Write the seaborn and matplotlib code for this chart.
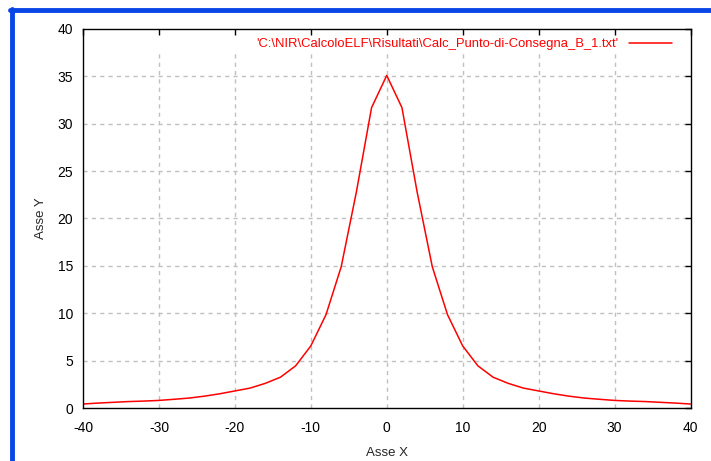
import matplotlib
matplotlib.use("Agg")
import matplotlib.pyplot as plt
import seaborn as sns
import pandas as pd
from matplotlib.lines import Line2D

# dati (curva simmetrica attorno a x=0)
x_vals = [-40, -38, -36, -34, -32, -30, -28, -26, -24, -22, -20, -18, -16, -14, -12, -10, -8, -6, -4, -2,
          0, 2, 4, 6, 8, 10, 12, 14, 16, 18, 20, 22, 24, 26, 28, 30, 32, 34, 36, 38, 40]
y_left = [0.42, 0.52, 0.60, 0.68, 0.73, 0.80, 0.92, 1.05, 1.25, 1.50, 1.80, 2.10, 2.60, 3.25, 4.45,
          6.55, 9.85, 14.9, 22.8, 31.7]
y_vals = y_left + [35.1] + y_left[::-1]

series_name = "'C:\\NIR\\CalcoloELF\\Risultati\\Calc_Punto-di-Consegna_B_1.txt'"
x_ticks = [-40, -30, -20, -10, 0, 10, 20, 30, 40]
y_ticks = [0, 5, 10, 15, 20, 25, 30, 35, 40]

df = pd.DataFrame({"x": x_vals, "y": y_vals})

sns.set_style("white")
plt.rcParams["font.family"] = ["Liberation Sans", "DejaVu Sans"]
plt.rcParams["font.size"] = 9.5
plt.rcParams["axes.unicode_minus"] = False

fig = plt.figure(figsize=(7.11, 4.61), dpi=100)
ax = fig.add_axes([83 / 711, 1 - 408 / 461, (690.5 - 83) / 711, (408 - 29) / 461])

# griglia tratteggiata grigia
for yt in y_ticks[1:-1]:
    ax.axhline(yt, color="#c0c0c0", lw=1, ls=(0, (3, 3)), zorder=0)
ax.vlines(x_ticks[1:-1], 0, 37.6, color="#c0c0c0", lw=1, ls=(0, (3, 3)), zorder=0)

sns.lineplot(data=df, x="x", y="y", ax=ax, color="red", lw=1.1, label=series_name)

ax.set_xlim(-40, 40)
ax.set_ylim(0, 40)
ax.set_xticks(x_ticks)
ax.set_yticks(y_ticks)
ax.tick_params(direction="in", top=True, right=True, length=4, width=1, colors="black", labelsize=10)
ax.tick_params(axis="x", pad=9)
ax.tick_params(axis="y", pad=7)
for s in ax.spines.values():
    s.set_color("black")
    s.set_linewidth(1)

ax.set_xlabel("Asse X", fontsize=9.5, labelpad=9)
ax.set_ylabel("Asse Y", fontsize=9.5, labelpad=8)

leg = ax.legend(loc="upper right", bbox_to_anchor=(0.984, 1.0), frameon=False, markerfirst=False,
                handlelength=3.3, handletextpad=0.8, borderaxespad=0.3, fontsize=9.4)
for t in leg.get_texts():
    t.set_color("red")

# cornice blu della finestra
fig.add_artist(Line2D([12 / 711, 12 / 711], [0, 1 - 9 / 461], transform=fig.transFigure,
                      color="#0a46e6", lw=3.5))
fig.add_artist(Line2D([10 / 711, 1], [1 - 10.5 / 461, 1 - 10.5 / 461], transform=fig.transFigure,
                      color="#0a46e6", lw=3.5))

fig.savefig("out.png", dpi=100)
